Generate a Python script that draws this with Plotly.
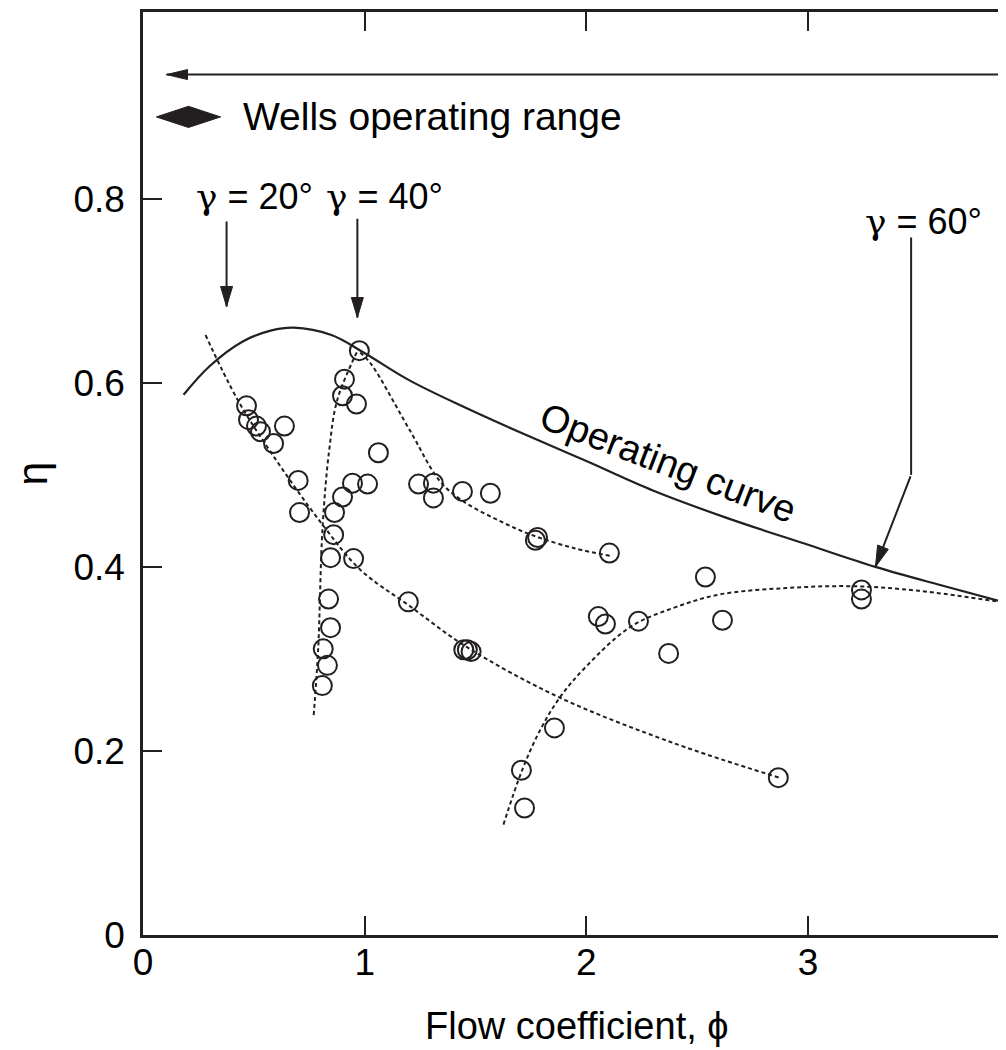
import plotly.graph_objects as go

# operating curve (solid)
op_phi = [0.183, 0.30, 0.45, 0.58, 0.68, 0.85, 0.995, 1.2, 1.446, 1.703, 2.0, 2.3, 2.636, 3.0, 3.304, 3.6, 3.893]
op_eta = [0.587, 0.618, 0.645, 0.657, 0.660, 0.652, 0.633, 0.603, 0.574, 0.546, 0.515, 0.483, 0.453, 0.424, 0.400, 0.380, 0.361]

# dotted trend lines
g20_phi = [0.282, 0.426, 0.584, 0.80, 0.98, 1.2, 1.46, 1.88, 2.4, 2.87]
g20_eta = [0.652, 0.582, 0.522, 0.449, 0.397, 0.358, 0.313, 0.258, 0.208, 0.171]

g40a_phi = [0.77, 0.79, 0.81, 0.84, 0.877, 0.97]
g40a_eta = [0.239, 0.31, 0.443, 0.527, 0.582, 0.636]

g40b_phi = [0.98, 1.03, 1.2, 1.34, 1.44, 1.6, 1.75, 1.95, 2.11]
g40b_eta = [0.633, 0.62, 0.55, 0.493, 0.472, 0.451, 0.435, 0.42, 0.412]

g60_phi = [1.626, 1.71, 1.79, 1.88, 2.0, 2.2, 2.4, 2.6, 2.9, 3.2, 3.5, 3.893]
g60_eta = [0.12, 0.179, 0.222, 0.258, 0.292, 0.335, 0.356, 0.37, 0.377, 0.379, 0.374, 0.361]

# measured points (circles)
pt_phi = [0.976, 0.909, 0.90, 0.963, 0.467, 0.476, 0.512, 0.53, 0.638, 0.589,
          1.062, 0.70, 0.706, 0.945, 1.013, 1.243, 1.31, 1.31, 0.90, 0.864,
          0.86, 0.846, 0.95, 1.197, 0.837, 0.846, 0.813, 0.832, 0.809, 1.441,
          1.567, 1.447, 1.463, 1.48, 1.77, 1.78, 2.104, 2.537, 2.054, 2.086,
          2.235, 2.614, 2.371, 1.856, 1.707, 1.721, 2.866, 3.241, 3.241]
pt_eta = [0.635, 0.604, 0.586, 0.577, 0.575, 0.56, 0.553, 0.547, 0.553, 0.534,
          0.524, 0.494, 0.459, 0.491, 0.49, 0.49, 0.491, 0.475, 0.476, 0.459,
          0.435, 0.41, 0.409, 0.362, 0.365, 0.334, 0.311, 0.293, 0.271, 0.482,
          0.48, 0.31, 0.31, 0.308, 0.429, 0.432, 0.415, 0.389, 0.346, 0.338,
          0.341, 0.342, 0.306, 0.225, 0.179, 0.138, 0.171, 0.375, 0.365]

x_ticks = [0, 1, 2, 3]
y_ticks = [0, 0.2, 0.4, 0.6, 0.8]
y_tick_text = ["0", "0.2", "0.4", "0.6", "0.8"]

ink = "#231f20"
font = "Liberation Sans, Arial, sans-serif"
greek = '<span style="font-family:DejaVu Serif">γ</span>'

fig = go.Figure()

fig.add_trace(go.Scatter(x=op_phi, y=op_eta, mode="lines", line=dict(color=ink, width=2.2, shape="spline")))
for px_, py_ in [(g20_phi, g20_eta), (g40a_phi, g40a_eta), (g40b_phi, g40b_eta), (g60_phi, g60_eta)]:
    fig.add_trace(go.Scatter(x=px_, y=py_, mode="lines",
                             line=dict(color=ink, width=2, dash="4px,3px", shape="spline")))
fig.add_trace(go.Scatter(x=pt_phi, y=pt_eta, mode="markers",
                         marker=dict(symbol="circle-open", size=19, color=ink, line=dict(width=2, color=ink))))

# vertical leg of the gamma = 60 pointer
fig.add_trace(go.Scatter(x=[3.465, 3.465], y=[0.758, 0.50], mode="lines", line=dict(color=ink, width=2)))

ann = []
shapes = []

def arrow(x, y, ax, ay, head):
    # shaft as annotation line, head as a narrow filled triangle in pixel units
    ann.append(dict(x=x, y=y, ax=ax, ay=ay, xref="x", yref="y", axref="x", ayref="y",
                    showarrow=True, arrowhead=0, arrowwidth=2, arrowcolor=ink, text=""))
    shapes.append(dict(type="path", xref="x", yref="y", xsizemode="pixel", ysizemode="pixel",
                       xanchor=x, yanchor=y, path=head, fillcolor=ink, line=dict(color=ink, width=1)))

head_down = "M 0,0 L -6,20 L 6,20 Z"
head_left = "M 0,0 L 21,5 L 21,-5 Z"
head_diag = "M 0,0 L 12.9,17.6 L 2.2,21.9 Z"

arrow(0.377, 0.683, 0.377, 0.777, head_down)
arrow(0.967, 0.671, 0.967, 0.780, head_down)
arrow(3.304, 0.400, 3.465, 0.50, head_diag)
arrow(0.106, 0.935, 3.893, 0.935, head_left)

def label(x, y, t, size, anchor="center", angle=0):
    ann.append(dict(x=x, y=y, xref="x", yref="y", text=t, showarrow=False, xanchor=anchor,
                    yanchor="middle", textangle=angle, font=dict(family=font, size=size, color="black")))

label(0.503, 0.802, greek + " = 20°", 36)
label(1.089, 0.802, greek + " = 40°", 36)
label(3.52, 0.775, greek + " = 60°", 36)
label(0.44, 0.889, "Wells operating range", 39, anchor="left")
label(2.37, 0.513, "Operating curve", 38, angle=21)

# x axis title placed as in the original
ann.append(dict(x=0.503, y=-0.0986, xref="paper", yref="paper", text="Flow coefficient, ϕ",
                showarrow=False, xanchor="center", yanchor="middle",
                font=dict(family=font, size=38, color="black")))

# double-headed marker for the operating range
shapes.append(dict(type="path", xref="x", yref="y",
                   path="M 0.06,0.889 L 0.205,0.9005 L 0.35,0.889 L 0.205,0.8775 Z",
                   fillcolor=ink, line=dict(color=ink, width=1)))

fig.update_layout(
    annotations=ann,
    shapes=shapes,
    width=998, height=1050,
    margin=dict(l=135, r=0, t=4, b=123, autoexpand=False),
    paper_bgcolor="white", plot_bgcolor="white",
    showlegend=False,
    font=dict(family=font, size=36, color="black"),
)
fig.update_xaxes(range=[0, 3.893], tickvals=x_ticks, ticks="inside", ticklen=19, tickwidth=1.5,
                 tickcolor=ink, showline=True, linecolor=ink, linewidth=2.5, mirror="ticks",
                 showgrid=False, zeroline=False, ticklabelstandoff=-7, automargin=False,
                 tickfont=dict(size=37))
fig.update_yaxes(range=[0, 1.003], tickvals=y_ticks, ticktext=y_tick_text, ticks="inside", ticklen=19,
                 tickwidth=1.5, tickcolor=ink, showline=True, linecolor=ink, linewidth=2.5,
                 showgrid=False, zeroline=False, ticklabelstandoff=8, automargin=False,
                 title=dict(text="η", standoff=41), tickfont=dict(size=37))

fig.write_html("out.html")
